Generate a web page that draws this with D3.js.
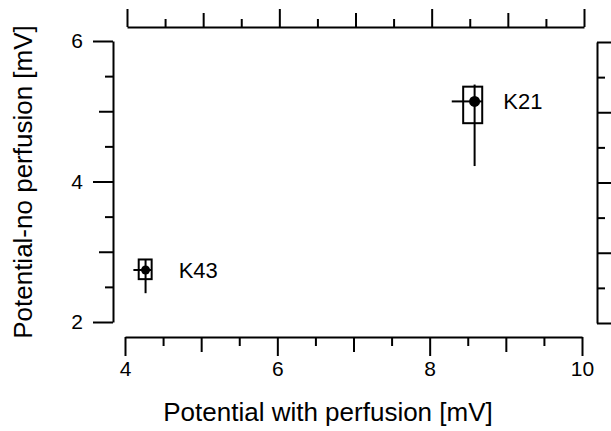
<!DOCTYPE html>
<html>
<head>
<meta charset="utf-8">
<script src="https://cdn.jsdelivr.net/npm/d3@7"></script>
<style>
  html, body { margin: 0; padding: 0; background: #fff; }
  svg { display: block; }
  text { font-family: "Liberation Sans", Arial, Helvetica, sans-serif; fill: #000; }
</style>
</head>
<body>
<svg id="chart" width="611" height="431"></svg>
<script>
// ---- data ----
const names     = ["K21", "K43"];
const xMean     = [8.59, 4.27];
const yMean     = [5.14, 2.74];
const boxXLo    = [8.44, 4.18];
const boxXHi    = [8.69, 4.35];
const boxYLo    = [4.83, 2.61];
const boxYHi    = [5.35, 2.89];
const errXLo    = [8.29, 4.11];
const errXHi    = [8.69, 4.35];
const errYLo    = [4.22, 2.41];
const errYHi    = [5.38, 2.89];
const xTicks    = [4, 4.5, 5, 5.5, 6, 6.5, 7, 7.5, 8, 8.5, 9, 9.5, 10];
const xLabels   = [4, 6, 8, 10];
const yTicks    = [2, 2.5, 3, 3.5, 4, 4.5, 5, 5.5, 6];
const yLabels   = [2, 4, 6];
const xTitle    = "Potential with perfusion [mV]";
const yTitle    = "Potential-no perfusion [mV]";

const svg = d3.select("#chart");
const x = d3.scaleLinear().domain([4, 10]).range([125, 582]);
const y = d3.scaleLinear().domain([2, 6]).range([322, 41]);

const SW = 2;
function styleAxis(g) {
  g.selectAll("path.domain").attr("stroke", "#000").attr("stroke-width", SW);
  g.selectAll(".tick line").attr("stroke", "#000").attr("stroke-width", SW);
  g.selectAll(".tick text").attr("fill", "#000").attr("font-family", '"Liberation Sans", Arial, sans-serif');
}
function xLen(v) { return (v % 2 === 0) ? 19 : (v % 1 === 0 ? 15 : 9); }
function yLen(v) { return (v % 2 === 0) ? 20 : (v % 1 === 0 ? 14 : 8); }

// bottom axis
const gB = svg.append("g").attr("transform", "translate(0,337)")
  .call(d3.axisBottom(x).tickValues(xTicks).tickSizeOuter(0).tickSizeInner(19)
    .tickFormat(d => xLabels.includes(d) ? d : ""));
styleAxis(gB);
gB.selectAll(".tick line").attr("y2", d => xLen(d));
gB.selectAll(".tick text").attr("y", 24).attr("font-size", 21);

// top axis (shifted duplicate)
const gT = svg.append("g").attr("transform", "translate(2,27)")
  .call(d3.axisTop(x).tickValues(xTicks).tickSizeOuter(0).tickSizeInner(18).tickFormat(""));
styleAxis(gT);
gT.selectAll(".tick line").attr("y2", d => -xLen(d) + 1);

// left axis
const gL = svg.append("g").attr("transform", "translate(113,0)")
  .call(d3.axisLeft(y).tickValues(yTicks).tickSizeOuter(0).tickSizeInner(20)
    .tickFormat(d => yLabels.includes(d) ? d : ""));
styleAxis(gL);
gL.selectAll(".tick line").attr("x2", d => -yLen(d));
gL.selectAll(".tick text").attr("x", -30).attr("font-size", 21);

// right axis (shifted duplicate)
const gR = svg.append("g").attr("transform", "translate(597,1)")
  .call(d3.axisRight(y).tickValues(yTicks).tickSizeOuter(0).tickSizeInner(20).tickFormat(""));
styleAxis(gR);
gR.selectAll(".tick line").attr("x2", d => (d % 1 === 0) ? 20 : 8);

// data marks
const idx = d3.range(names.length);
const marks = svg.append("g");
marks.selectAll("rect.box").data(idx).join("rect")
  .attr("x", i => x(boxXLo[i])).attr("y", i => y(boxYHi[i]))
  .attr("width", i => x(boxXHi[i]) - x(boxXLo[i]))
  .attr("height", i => y(boxYLo[i]) - y(boxYHi[i]))
  .attr("fill", "none").attr("stroke", "#000").attr("stroke-width", SW);
marks.selectAll("line.ev").data(idx).join("line")
  .attr("x1", i => x(xMean[i])).attr("x2", i => x(xMean[i]))
  .attr("y1", i => y(errYLo[i])).attr("y2", i => y(errYHi[i]))
  .attr("stroke", "#000").attr("stroke-width", SW);
marks.selectAll("line.eh").data(idx).join("line")
  .attr("x1", i => x(errXLo[i])).attr("x2", i => x(errXHi[i]))
  .attr("y1", i => y(yMean[i])).attr("y2", i => y(yMean[i]))
  .attr("stroke", "#000").attr("stroke-width", SW);
marks.selectAll("circle").data(idx).join("circle")
  .attr("cx", i => x(xMean[i])).attr("cy", i => y(yMean[i]))
  .attr("r", i => i === 0 ? 5.5 : 4.5).attr("fill", "#000");
marks.selectAll("text").data(idx).join("text")
  .attr("x", i => x(boxXHi[i]) + (i === 0 ? 21 : 27))
  .attr("y", i => y(yMean[i]) + 8)
  .attr("font-size", 22)
  .text(i => names[i]);

// axis titles
svg.append("text").attr("x", 328).attr("y", 421).attr("text-anchor", "middle")
  .attr("font-size", 26).text(xTitle);
svg.append("text").attr("transform", "translate(32,182) rotate(-90)")
  .attr("text-anchor", "middle").attr("font-size", 26).text(yTitle);
</script>
</body>
</html>
